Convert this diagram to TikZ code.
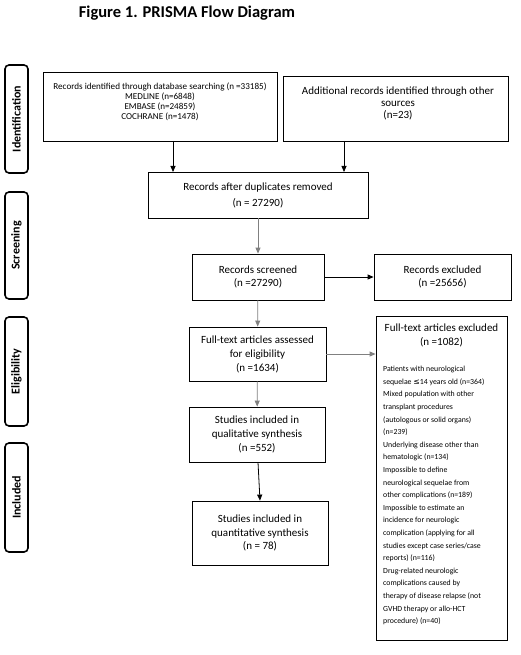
\documentclass[tikz,border=0pt]{standalone}
\usepackage{fontspec}
\setmainfont{Carlito}
\newfontfamily\symfont{DejaVu Sans}
\usetikzlibrary{arrows.meta}
\begin{document}
\begin{tikzpicture}[x=1pt,y=-1pt,
  box/.style={draw, line width=0.8pt, align=center, inner sep=0pt, font=\fontsize{11}{13}\selectfont},
  phase/.style={draw, line width=1.6pt, rounded corners=4pt, inner sep=0pt, rotate=90,
    minimum height=23pt, font=\bfseries\fontsize{12}{14}\selectfont},
  arr/.style={-{Triangle[length=6pt,width=5pt]}, line width=0.8pt},
  garr/.style={arr, draw=black!50},
]
\useasboundingbox (0,0) rectangle (520,655);
\node[font=\bfseries\fontsize{16.5}{18}\selectfont] (title) at (187,13) {Figure 1. PRISMA Flow Diagram};

% phase labels
\node[phase, minimum width=108pt] (pid) at (16.5,119) {Identification};
\node[phase, minimum width=107pt] (psc) at (16.5,245.5) {Screening};
\node[phase, minimum width=109pt] (pel) at (16.5,371.5) {Eligibility};
\node[phase, minimum width=109pt] (pin) at (16.5,497.5) {Included};

% boxes
\node[box, minimum width=234pt, minimum height=69pt] (b1) at (160,106.5) {};
\node[align=center, inner sep=0pt, font=\fontsize{9.1}{10}\selectfont] (b1t) at (160,102)
  {Records identified through database searching (n =33185)\\MEDLINE (n=6848)\\EMBASE (n=24859)\\COCHRANE (n=1478)};
\node[box, minimum width=225pt, minimum height=65pt] (b2) at (395.5,108.5) {};
\node[align=center, inner sep=0pt, font=\fontsize{11}{12}\selectfont] (b2t) at (398,103.5)
  {Additional records identified through other\\sources\\(n=23)};
\node[box, minimum width=220pt, minimum height=46pt, font=\fontsize{11}{16}\selectfont] (b3) at (258,195) {Records after duplicates removed\\(n = 27290)};
\node[box, minimum width=132pt, minimum height=46pt] (b4) at (258,277) {Records screened\\(n =27290)};
\node[box, minimum width=137pt, minimum height=46pt] (b5) at (442.5,277) {Records excluded\\(n =25656)};
\node[box, minimum width=137pt, minimum height=54pt, font=\fontsize{11}{14}\selectfont] (b6) at (257.5,354) {Full-text articles assessed\\for eligibility\\(n =1634)};
\node[box, minimum width=136pt, minimum height=55pt, font=\fontsize{11}{14}\selectfont] (b8) at (257,434.5) {Studies included in\\qualitative synthesis\\(n =552)};
\node[box, minimum width=136pt, minimum height=64pt, font=\fontsize{11}{13.5}\selectfont] (b9) at (260,533) {Studies included in\\quantitative synthesis\\(n = 78)};

\node[box, minimum width=131pt, minimum height=324pt] (b7) at (441.5,478) {};
\node[align=center, inner sep=0pt, anchor=north, font=\fontsize{11}{14}\selectfont] (b7h) at (441.5,324)
  {Full-text articles excluded\\(n =1082)};
\node[align=left, inner sep=0pt, anchor=north west, font=\fontsize{7.8}{12.6}\selectfont] (b7l) at (383,366)
  {Patients with neurological\\
   sequelae {\symfont ≤}14 years old (n=364)\\
   Mixed population with other\\
   transplant procedures\\
   (autologous or solid organs)\\
   (n=239)\\
   Underlying disease other than\\
   hematologic (n=134)\\
   Impossible to define\\
   neurological sequelae from\\
   other complications (n=189)\\
   Impossible to estimate an\\
   incidence for neurologic\\
   complication (applying for all\\
   studies except case series/case\\
   reports) (n=116)\\
   Drug-related neurologic\\
   complications caused by\\
   therapy of disease relapse (not\\
   GVHD therapy or allo-HCT\\
   procedure) (n=40)};

% arrows
\coordinate (a1) at (173,141);
\coordinate (a1e) at (173,172);
\draw[arr] (a1) -- (a1e);
\coordinate (a2) at (344,141);
\coordinate (a2e) at (344,172);
\draw[arr] (a2) -- (a2e);
\draw[garr] (b3) -- (b4);
\draw[arr] (b4) -- (b5);
\draw[garr] (b4) -- (b6);
\draw[garr] (b6.east) -- (b6.east -| b7.west);
\draw[garr] (b6) -- (b8);
\draw[arr] (b8.south) ++(1,0) coordinate (c8) -- (b9.north);
\end{tikzpicture}
\end{document}
